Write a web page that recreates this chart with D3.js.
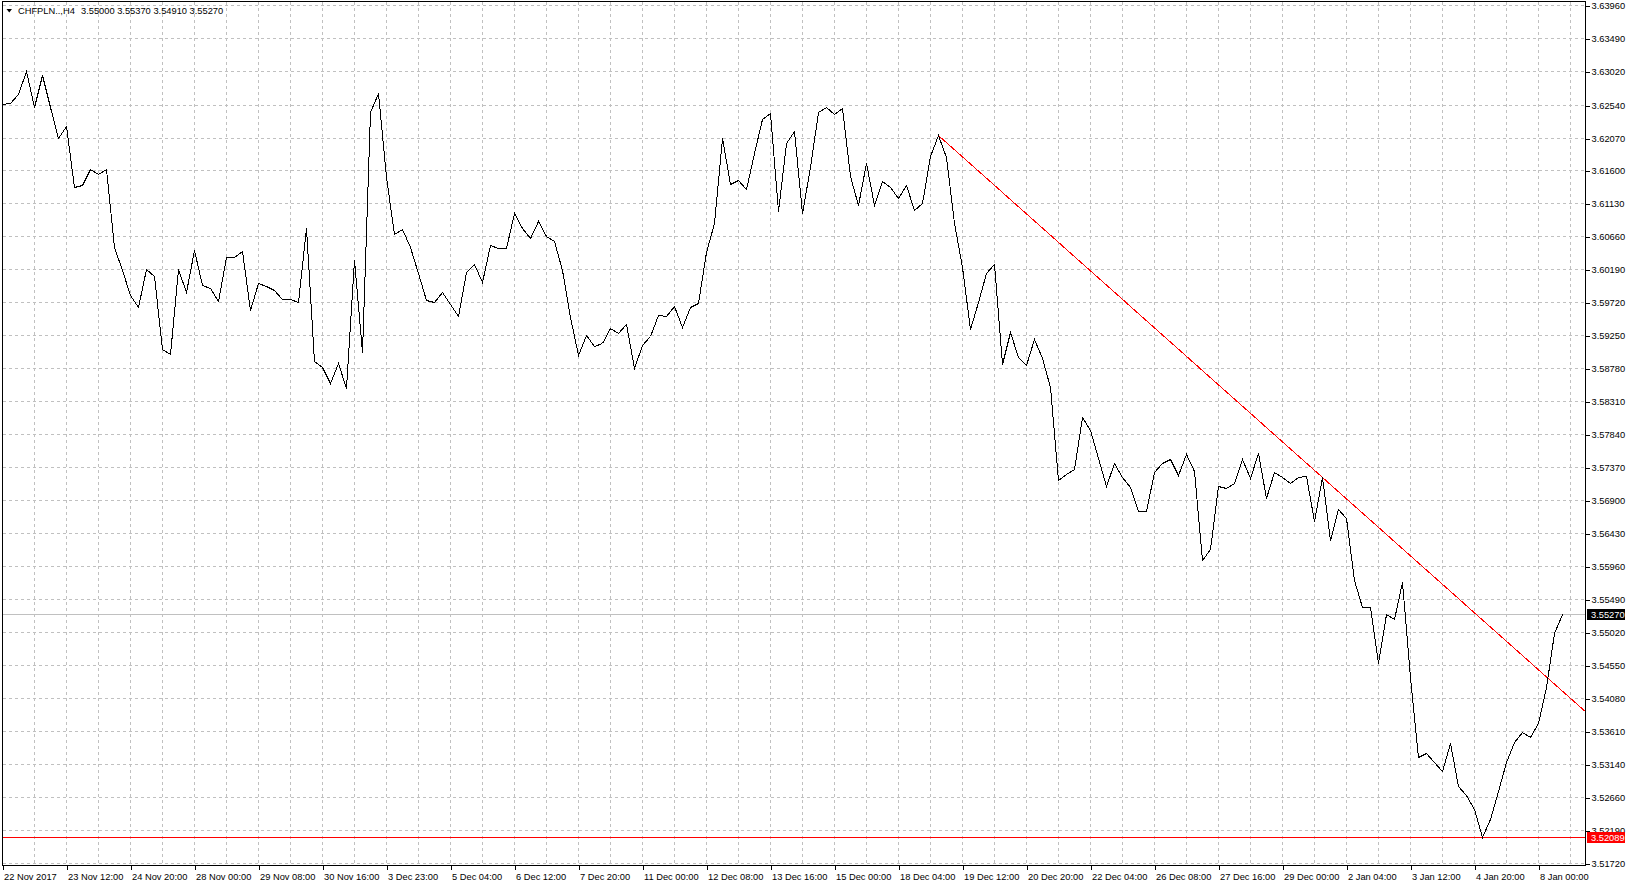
<!DOCTYPE html>
<html>
<head>
<meta charset="utf-8">
<script src="https://cdn.jsdelivr.net/npm/d3@7"></script>
<style>
  body { margin: 0; background: #fff; }
  svg { display: block; font-family: "Liberation Sans", Arial, sans-serif; }
</style>
</head>
<body>
<div id="chart"></div>
<script>
var symbolName = "CHFPLN..,H4",
    lastBar = [3.55000, 3.55370, 3.54910, 3.55270]; // open high low close

// time labels, one every 8 H4 bars
var timeLabels = ["22 Nov 2017", "23 Nov 12:00", "24 Nov 20:00", "28 Nov 00:00", "29 Nov 08:00",
  "30 Nov 16:00", "3 Dec 23:00", "5 Dec 04:00", "6 Dec 12:00", "7 Dec 20:00", "11 Dec 00:00",
  "12 Dec 08:00", "13 Dec 16:00", "15 Dec 00:00", "18 Dec 04:00", "19 Dec 12:00", "20 Dec 20:00",
  "22 Dec 04:00", "26 Dec 08:00", "27 Dec 16:00", "29 Dec 00:00", "2 Jan 04:00", "3 Jan 12:00",
  "4 Jan 20:00", "8 Jan 00:00"];

var priceTicks = [3.63960, 3.63490, 3.63020, 3.62540, 3.62070, 3.61600, 3.61130, 3.60660, 3.60190,
  3.59720, 3.59250, 3.58780, 3.58310, 3.57840, 3.57370, 3.56900, 3.56430, 3.55960, 3.55490,
  3.55020, 3.54550, 3.54080, 3.53610, 3.53140, 3.52660, 3.52190, 3.51720];

// close of each H4 bar
var closes = [
  3.62548, 3.62558, 3.62687, 3.63015, 3.62510, 3.62962, 3.62510, 3.62059, 3.62239, 3.61369,
  3.61393, 3.61617, 3.61550, 3.61617, 3.60513, 3.60181, 3.59824, 3.59658, 3.60199, 3.60095,
  3.59050, 3.58983, 3.60191, 3.59871, 3.60466, 3.59967, 3.59920, 3.59743, 3.60362, 3.60362,
  3.60448, 3.59611, 3.59991, 3.59953, 3.59896, 3.59772, 3.59763, 3.59725, 3.60776, 3.58883,
  3.58793, 3.58565, 3.58850, 3.58494, 3.60324, 3.59016, 3.62438, 3.62709, 3.61511, 3.60694,
  3.60761, 3.60513, 3.60134, 3.59753, 3.59729, 3.59863, 3.59696, 3.59525, 3.60148, 3.60262,
  3.60014, 3.60537, 3.60490, 3.60490, 3.60990, 3.60776, 3.60642, 3.60884, 3.60666, 3.60590,
  3.60181, 3.59515, 3.58969, 3.59254, 3.59097, 3.59136, 3.59350, 3.59287, 3.59407, 3.58779,
  3.59111, 3.59240, 3.59539, 3.59525, 3.59668, 3.59364, 3.59649, 3.59706, 3.60442, 3.60847,
  3.62068, 3.61407, 3.61464, 3.61332, 3.61845, 3.62330, 3.62424, 3.61027, 3.61996, 3.62167,
  3.60990, 3.61654, 3.62430, 3.62501, 3.62406, 3.62495, 3.61521, 3.61108, 3.61703, 3.61108,
  3.61454, 3.61360, 3.61203, 3.61393, 3.61037, 3.61141, 3.61807, 3.62106, 3.61788, 3.60847,
  3.60228, 3.59335, 3.59729, 3.60142, 3.60267, 3.58836, 3.59292, 3.58944, 3.58826, 3.59193,
  3.58922, 3.58517, 3.57186, 3.57272, 3.57343, 3.58080, 3.57899, 3.57496, 3.57105, 3.57433,
  3.57233, 3.57082, 3.56744, 3.56744, 3.57296, 3.57424, 3.57481, 3.57257, 3.57553, 3.57319,
  3.56045, 3.56202, 3.57105, 3.57068, 3.57139, 3.57481, 3.57215, 3.57575, 3.56925, 3.57305,
  3.57233, 3.57139, 3.57225, 3.57243, 3.56606, 3.57225, 3.56331, 3.56777, 3.56640, 3.55760,
  3.55379, 3.55379, 3.54572, 3.55271, 3.55204, 3.55727, 3.54381, 3.53240, 3.53289, 3.53160,
  3.53041, 3.53431, 3.52827, 3.52694, 3.52490, 3.52089, 3.52348, 3.52755, 3.53169, 3.53454,
  3.53597, 3.53525, 3.53725, 3.54230, 3.55009, 3.55270];

// trend line anchors (bar index, price) and the horizontal level
var trendBars = [117, 165],
    trendPrices = [3.62106, 3.57225],
    levelPrice = 3.52089;

var width = 1628, height = 887,
    plotLeft = 2.5, plotTop = 1.5, plotRight = 1585.5, plotBottom = 865.5,
    lastBarsShown = 197.75,
    fontSize = 9.3;

var x = d3.scaleLinear()
    .domain([0, lastBarsShown])
    .range([3, 1585])
    .interpolate(d3.interpolateRound);

var y = d3.scaleLinear()
    .domain([3.51720, 3.63960])
    .range([863.3, 5])
    .interpolate(d3.interpolateRound);

var svg = d3.select("#chart").append("svg")
    .attr("width", width)
    .attr("height", height);

svg.append("defs").append("clipPath").attr("id", "plot")
  .append("rect")
    .attr("x", plotLeft).attr("y", plotTop)
    .attr("width", plotRight - plotLeft).attr("height", plotBottom - plotTop);

// grid
var grid = svg.append("g")
    .attr("stroke", "#c0c0c0")
    .attr("stroke-dasharray", "3,3")
    .attr("shape-rendering", "crispEdges");

grid.selectAll(".vgrid")
    .data(d3.range(4, 197, 4))
  .enter().append("line")
    .attr("x1", function(d) { return x(d) - 0.5; })
    .attr("x2", function(d) { return x(d) - 0.5; })
    .attr("y1", plotTop)
    .attr("y2", plotBottom);

grid.selectAll(".hgrid")
    .data(priceTicks)
  .enter().append("line")
    .attr("x1", plotLeft)
    .attr("x2", plotRight)
    .attr("y1", function(d) { return y(d) + 0.5; })
    .attr("y2", function(d) { return y(d) + 0.5; });

// bid line
svg.append("line")
    .attr("x1", plotLeft).attr("x2", plotRight)
    .attr("y1", y(lastBar[3]) + 0.5).attr("y2", y(lastBar[3]) + 0.5)
    .attr("stroke", "#c0c0c0")
    .attr("shape-rendering", "crispEdges");

// horizontal level
svg.append("line")
    .attr("x1", plotLeft).attr("x2", plotRight)
    .attr("y1", y(levelPrice) + 0.5).attr("y2", y(levelPrice) + 0.5)
    .attr("stroke", "#ff0000")
    .attr("shape-rendering", "crispEdges");

// trend line, extended as a ray to the right edge
var slope = (trendPrices[1] - trendPrices[0]) / (trendBars[1] - trendBars[0]);
svg.append("line")
    .attr("clip-path", "url(#plot)")
    .attr("x1", x(trendBars[0]) - 0.5)
    .attr("y1", y(trendPrices[0]) + 0.5)
    .attr("x2", x(lastBarsShown + 2))
    .attr("y2", y(trendPrices[0] + slope * (lastBarsShown + 2 - trendBars[0])) + 0.5)
    .attr("stroke", "#ff0000")
    .attr("stroke-width", 1)
    .attr("shape-rendering", "crispEdges");

// price line
var line = d3.line()
    .x(function(d, i) { return x(i) - 0.5; })
    .y(function(d) { return y(d) + 0.5; });

svg.append("path")
    .datum(closes)
    .attr("clip-path", "url(#plot)")
    .attr("d", line)
    .attr("fill", "none")
    .attr("stroke", "#000")
    .attr("stroke-width", 1)
    .attr("shape-rendering", "crispEdges");

// frame
svg.append("rect")
    .attr("x", plotLeft).attr("y", plotTop)
    .attr("width", plotRight - plotLeft).attr("height", plotBottom - plotTop)
    .attr("fill", "none")
    .attr("stroke", "#000")
    .attr("shape-rendering", "crispEdges");

// price axis
var yAxis = svg.append("g")
    .attr("transform", "translate(" + plotRight + ",0.5)")
    .call(d3.axisRight(y)
      .tickValues(priceTicks)
      .tickFormat(d3.format(".5f"))
      .tickSize(4)
      .tickSizeOuter(0)
      .tickPadding(2));
yAxis.select(".domain").remove();
yAxis.selectAll("text").attr("font-size", fontSize).attr("font-family", "Liberation Sans, Arial, sans-serif").attr("fill", "#000");
yAxis.selectAll("line").attr("shape-rendering", "crispEdges");

// time axis
var xAxis = svg.append("g")
    .attr("transform", "translate(-0.5," + plotBottom + ")")
    .call(d3.axisBottom(x)
      .tickValues(d3.range(0, 193, 8))
      .tickFormat(function(d, i) { return timeLabels[i]; })
      .tickSize(4)
      .tickSizeOuter(0)
      .tickPadding(4));
xAxis.select(".domain").remove();
xAxis.selectAll("text")
    .attr("text-anchor", "start")
    .attr("dx", 1)
    .attr("font-size", fontSize)
    .attr("font-family", "Liberation Sans, Arial, sans-serif")
    .attr("fill", "#000");
xAxis.selectAll("line").attr("shape-rendering", "crispEdges");

// price marks on the axis
function priceMark(price, fill) {
  var g = svg.append("g").attr("transform", "translate(1587," + (y(price) + 0.5) + ")");
  g.append("rect")
      .attr("x", 0).attr("y", -5.5)
      .attr("width", 38).attr("height", 11)
      .attr("fill", fill);
  g.append("text")
      .attr("x", 4).attr("dy", "0.34em")
      .attr("font-size", fontSize)
      .attr("fill", "#fff")
      .text(d3.format(".5f")(price));
}
priceMark(lastBar[3], "#000");
priceMark(levelPrice, "#ff0000");

// header
svg.append("path")
    .attr("d", "M6.5,9L12,9L9.25,12.5Z")
    .attr("fill", "#000");
svg.append("text")
    .attr("x", 18).attr("y", 14)
    .attr("font-size", fontSize)
    .text(symbolName);
svg.append("text")
    .attr("x", 81).attr("y", 14)
    .attr("font-size", fontSize)
    .text(lastBar.map(d3.format(".5f")).join(" "));
</script>
</body>
</html>
